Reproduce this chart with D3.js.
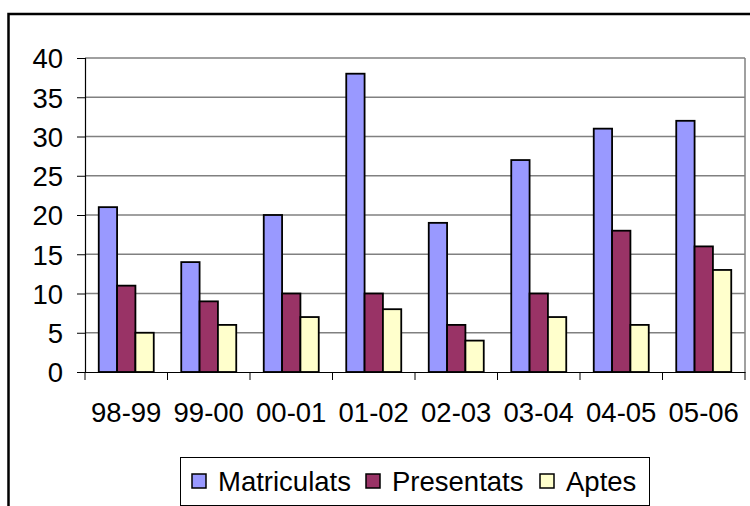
<!DOCTYPE html>
<html>
<head>
<meta charset="utf-8">
<script src="https://cdn.jsdelivr.net/npm/d3@7"></script>
<style>
  html, body { margin: 0; padding: 0; background: #fff; }
  svg { display: block; }
  text { font-family: "Liberation Sans", Arial, sans-serif; fill: #000; }
</style>
</head>
<body>
<svg id="chart" width="750" height="506"></svg>
<script>
const categories = ["98-99", "99-00", "00-01", "01-02", "02-03", "03-04", "04-05", "05-06"];
const seriesNames = ["Matriculats", "Presentats", "Aptes"];
const matriculats = [21, 14, 20, 38, 19, 27, 31, 32];
const presentats = [11, 9, 10, 10, 6, 10, 18, 16];
const aptes = [5, 6, 7, 8, 4, 7, 6, 13];
const yTicks = [0, 5, 10, 15, 20, 25, 30, 35, 40];
const colors = ["#9999FF", "#993366", "#FFFFCC"];

const seriesValues = [matriculats, presentats, aptes];
const svg = d3.select("#chart");
const FS = 27.5;

// outer chart border
svg.append("rect").attr("x", 8.5).attr("y", 14).attr("width", 800).attr("height", 600)
  .attr("fill", "#fff").attr("stroke", "#000").attr("stroke-width", 2.5);

const plot = {left: 85, right: 745, top: 58, bottom: 372};
const x0 = d3.scaleBand().domain(categories).range([plot.left, plot.right])
  .paddingInner(1/3).paddingOuter(1/6);
const x1 = d3.scaleBand().domain(seriesNames).range([0, x0.bandwidth()]);
const y = d3.scaleLinear().domain([0, 40]).range([plot.bottom, plot.top]);

// gridlines
svg.append("g").selectAll("line").data(yTicks.filter(d => d > 0)).join("line")
  .attr("x1", plot.left).attr("x2", plot.right)
  .attr("y1", d => y(d)).attr("y2", d => y(d))
  .attr("stroke", "#808080").attr("stroke-width", 1.3);
// right plot border
svg.append("line").attr("x1", plot.right).attr("x2", plot.right)
  .attr("y1", plot.top).attr("y2", plot.bottom)
  .attr("stroke", "#808080").attr("stroke-width", 1.5);

// bars
const groups = svg.append("g").selectAll("g").data(categories).join("g")
  .attr("transform", d => `translate(${x0(d)},0)`);
groups.selectAll("rect").data((c, i) => seriesNames.map((s, j) => ({s, j, v: seriesValues[j][i]})))
  .join("rect")
  .attr("x", d => x1(d.s)).attr("width", x1.bandwidth())
  .attr("y", d => y(d.v)).attr("height", d => y(0) - y(d.v))
  .attr("fill", d => colors[d.j]).attr("stroke", "#000").attr("stroke-width", 1.8);

// y axis
const yAxis = d3.axisLeft(y).tickValues(yTicks).tickSize(8).tickPadding(0).tickFormat(d3.format("d"));
const gy = svg.append("g").attr("transform", `translate(${plot.left},0)`).call(yAxis);
gy.select(".domain").attr("stroke", "#000").attr("stroke-width", 1.2);
gy.selectAll(".tick line").attr("stroke", "#000").attr("stroke-width", 1);
gy.selectAll(".tick text")
  .attr("x", -22).attr("dy", "0.36em")
  .attr("text-anchor", "end")
  .style("font-size", FS + "px")
  .style("font-family", "'Liberation Sans', Arial, sans-serif")
  .attr("fill", "#000");

// x axis
const xAxis = d3.axisBottom(x0).tickSize(0).tickSizeOuter(0).tickPadding(0);
const gx = svg.append("g").attr("transform", `translate(0,${plot.bottom})`).call(xAxis);
gx.select(".domain").attr("stroke", "#000").attr("stroke-width", 1.2);
gx.selectAll(".tick text")
  .attr("y", 50).attr("dy", 0)
  .attr("text-anchor", "middle")
  .style("font-size", FS + "px")
  .style("font-family", "'Liberation Sans', Arial, sans-serif")
  .attr("fill", "#000");
// category boundary ticks
const step = x0.step();
gx.append("g").selectAll("line").data(d3.range(categories.length + 1)).join("line")
  .attr("x1", i => plot.left + i * step).attr("x2", i => plot.left + i * step)
  .attr("y1", 0).attr("y2", 8).attr("stroke", "#000").attr("stroke-width", 1);

// legend
const lg = svg.append("g");
lg.append("rect").attr("x", 180.5).attr("y", 457.5).attr("width", 469).attr("height", 48)
  .attr("fill", "#fff").attr("stroke", "#000").attr("stroke-width", 1);
const legendTextX = [218, 392, 566];
const items = lg.selectAll("g.item").data(seriesNames).join("g").attr("class", "item")
  .attr("transform", (d, i) => `translate(${legendTextX[i]},0)`);
items.append("rect").attr("x", -26).attr("y", 474).attr("width", 14).attr("height", 14)
  .attr("fill", (d, i) => colors[i]).attr("stroke", "#000").attr("stroke-width", 1.5);
items.append("text")
  .attr("x", 0).attr("y", 491)
  .style("font-size", FS + "px")
  .text(d => d);
</script>
</body>
</html>
